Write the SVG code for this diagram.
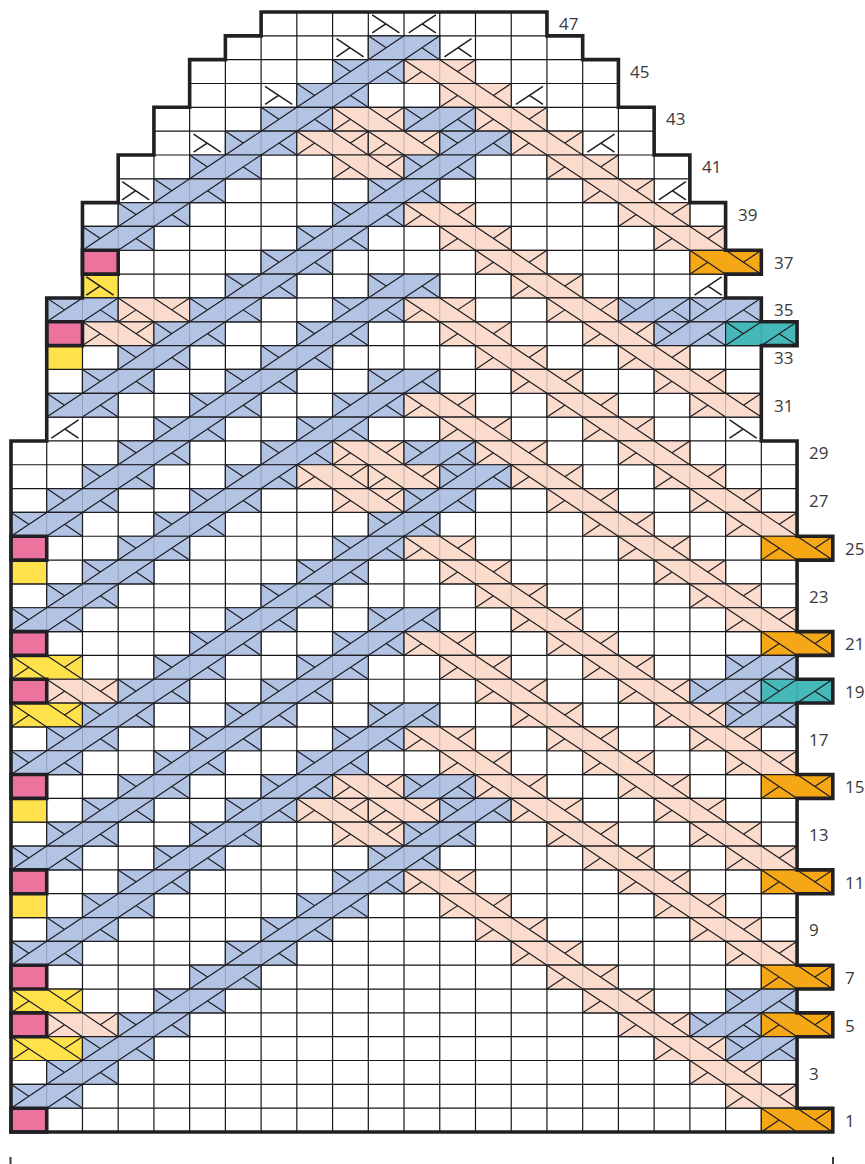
<svg xmlns="http://www.w3.org/2000/svg" width="865" height="1164" viewBox="0 0 865 1164">
<style>
.g,.e,.l,.f,.t,.h{vector-effect:non-scaling-stroke;fill:none}
.g{stroke:#161618;stroke-width:1.2}
.e{stroke:#1e1e22;stroke-width:1.2}
.l{stroke:#1e1e22;stroke-width:1.2}
.f{stroke:#5a5f70;stroke-opacity:.35;stroke-width:1}
.t{stroke:#1e1e22;stroke-width:1.5}
.h{stroke:#212125;stroke-width:3.6;stroke-linejoin:miter}
.lab{font-family:"Open Sans","Noto Sans",sans-serif;font-size:17px;fill:#3a3a3c}
.tick{stroke:#3a3a3c;stroke-width:2;fill:none}
</style>
<defs>
<path id="up" class="l" d="M0 1L1 0M1 1L2 0M0 0L.5 .5M2 1L1.5 .5"/>
<path id="dn" class="l" d="M0 0L1 1M1 0L2 1M0 1L.5 .5M2 0L1.5 .5"/>
<g id="b"><rect width="2" height="1" fill="#b3c3e3"/><path class="f" d="M1 0V1"/><rect class="e" width="2" height="1"/><use href="#up"/></g>
<g id="c"><rect width="2" height="1" fill="#45b9b9"/><path class="f" d="M1 0V1"/><rect class="e" width="2" height="1"/><use href="#up"/></g>
<g id="s"><rect width="2" height="1" fill="#fadbcc"/><path class="f" d="M1 0V1"/><rect class="e" width="2" height="1"/><use href="#dn"/></g>
<g id="o"><rect width="2" height="1" fill="#f6a715"/><rect class="e" width="2" height="1"/><use href="#dn"/></g>
<g id="Y"><rect width="2" height="1" fill="#ffe14c"/><rect class="e" width="2" height="1"/><use href="#dn"/></g>
<g id="y"><rect width="1" height="1" fill="#ffe14c"/><rect class="e" width="1" height="1"/></g>
<g id="p"><rect width="1" height="1" fill="#ec739e"/><rect class="h" width="1" height="1"/></g>
<path id="a" class="t" d="M.11 .12L.87 .88M.11 .88L.49 .5"/>
<path id="m" class="t" d="M.13 .88L.89 .12M.51 .5L.89 .88"/>
<clipPath id="clip"><polygon points="7,0 15,0 15,1 16,1 16,2 17,2 17,4 18,4 18,6 19,6 19,8 20,8 20,10 21,10 21,11 20,11 20,12 21,12 21,13 22,13 22,14 21,14 21,18 22,18 22,22 23,22 23,23 22,23 22,26 23,26 23,27 22,27 22,28 23,28 23,29 22,29 22,32 23,32 23,33 22,33 22,36 23,36 23,37 22,37 22,40 23,40 23,41 22,41 22,42 23,42 23,43 22,43 22,46 23,46 23,47 0,47 0,18 1,18 1,12 2,12 2,8 3,8 3,6 4,6 4,4 5,4 5,2 6,2 6,1 7,1"/></clipPath>
</defs>
<rect width="865" height="1164" fill="#fff"/>
<g id="chart" transform="translate(11,12) scale(35.73,23.83)">
<path class="g" clip-path="url(#clip)" d="M1 0V47M2 0V47M3 0V47M4 0V47M5 0V47M6 0V47M7 0V47M8 0V47M9 0V47M10 0V47M11 0V47M12 0V47M13 0V47M14 0V47M15 0V47M16 0V47M17 0V47M18 0V47M19 0V47M20 0V47M21 0V47M22 0V47M0 1H23M0 2H23M0 3H23M0 4H23M0 5H23M0 6H23M0 7H23M0 8H23M0 9H23M0 10H23M0 11H23M0 12H23M0 13H23M0 14H23M0 15H23M0 16H23M0 17H23M0 18H23M0 19H23M0 20H23M0 21H23M0 22H23M0 23H23M0 24H23M0 25H23M0 26H23M0 27H23M0 28H23M0 29H23M0 30H23M0 31H23M0 32H23M0 33H23M0 34H23M0 35H23M0 36H23M0 37H23M0 38H23M0 39H23M0 40H23M0 41H23M0 42H23M0 43H23M0 44H23M0 45H23M0 46H23"/>
<g id="row-47" transform="translate(0,0)"><use href="#a" x="10"/><use href="#m" x="11"/></g>
<g id="row-46" transform="translate(0,1)"><use href="#a" x="9"/><use href="#b" x="10"/><use href="#m" x="12"/></g>
<g id="row-45" transform="translate(0,2)"><use href="#b" x="9"/><use href="#s" x="11"/></g>
<g id="row-44" transform="translate(0,3)"><use href="#a" x="7"/><use href="#b" x="8"/><use href="#s" x="12"/><use href="#m" x="14"/></g>
<g id="row-43" transform="translate(0,4)"><use href="#b" x="7"/><use href="#s" x="9"/><use href="#b" x="11"/><use href="#s" x="13"/></g>
<g id="row-42" transform="translate(0,5)"><use href="#a" x="5"/><use href="#b" x="6"/><use href="#s" x="8"/><use href="#s" x="10"/><use href="#b" x="12"/><use href="#s" x="14"/><use href="#m" x="16"/></g>
<g id="row-41" transform="translate(0,6)"><use href="#b" x="5"/><use href="#s" x="9"/><use href="#b" x="11"/><use href="#s" x="15"/></g>
<g id="row-40" transform="translate(0,7)"><use href="#a" x="3"/><use href="#b" x="4"/><use href="#b" x="10"/><use href="#s" x="16"/><use href="#m" x="18"/></g>
<g id="row-39" transform="translate(0,8)"><use href="#b" x="3"/><use href="#b" x="9"/><use href="#s" x="11"/><use href="#s" x="17"/></g>
<g id="row-38" transform="translate(0,9)"><use href="#b" x="2"/><use href="#b" x="8"/><use href="#s" x="12"/><use href="#s" x="18"/></g>
<g id="row-37" transform="translate(0,10)"><use href="#b" x="7"/><use href="#s" x="13"/><use href="#o" x="19"/></g>
<g id="row-36" transform="translate(0,11)"><use href="#y" x="2"/><use href="#a" x="2"/><use href="#b" x="6"/><use href="#b" x="10"/><use href="#s" x="14"/><use href="#m" x="19"/></g>
<g id="row-35" transform="translate(0,12)"><use href="#b" x="1"/><use href="#s" x="3"/><use href="#b" x="5"/><use href="#b" x="9"/><use href="#s" x="11"/><use href="#s" x="15"/><use href="#b" x="17"/><use href="#b" x="19"/></g>
<g id="row-34" transform="translate(0,13)"><use href="#s" x="2"/><use href="#b" x="4"/><use href="#b" x="8"/><use href="#s" x="12"/><use href="#s" x="16"/><use href="#b" x="18"/><use href="#c" x="20"/></g>
<g id="row-33" transform="translate(0,14)"><use href="#y" x="1"/><use href="#b" x="3"/><use href="#b" x="7"/><use href="#s" x="13"/><use href="#s" x="17"/></g>
<g id="row-32" transform="translate(0,15)"><use href="#b" x="2"/><use href="#b" x="6"/><use href="#b" x="10"/><use href="#s" x="14"/><use href="#s" x="18"/></g>
<g id="row-31" transform="translate(0,16)"><use href="#b" x="1"/><use href="#b" x="5"/><use href="#b" x="9"/><use href="#s" x="11"/><use href="#s" x="15"/><use href="#s" x="19"/></g>
<g id="row-30" transform="translate(0,17)"><use href="#m" x="1"/><use href="#b" x="4"/><use href="#b" x="8"/><use href="#s" x="12"/><use href="#s" x="16"/><use href="#a" x="20"/></g>
<g id="row-29" transform="translate(0,18)"><use href="#b" x="3"/><use href="#b" x="7"/><use href="#s" x="9"/><use href="#b" x="11"/><use href="#s" x="13"/><use href="#s" x="17"/></g>
<g id="row-28" transform="translate(0,19)"><use href="#b" x="2"/><use href="#b" x="6"/><use href="#s" x="8"/><use href="#s" x="10"/><use href="#b" x="12"/><use href="#s" x="14"/><use href="#s" x="18"/></g>
<g id="row-27" transform="translate(0,20)"><use href="#b" x="1"/><use href="#b" x="5"/><use href="#s" x="9"/><use href="#b" x="11"/><use href="#s" x="15"/><use href="#s" x="19"/></g>
<g id="row-26" transform="translate(0,21)"><use href="#b" x="0"/><use href="#b" x="4"/><use href="#b" x="10"/><use href="#s" x="16"/><use href="#s" x="20"/></g>
<g id="row-25" transform="translate(0,22)"><use href="#b" x="3"/><use href="#b" x="9"/><use href="#s" x="11"/><use href="#s" x="17"/><use href="#o" x="21"/></g>
<g id="row-24" transform="translate(0,23)"><use href="#y" x="0"/><use href="#b" x="2"/><use href="#b" x="8"/><use href="#s" x="12"/><use href="#s" x="18"/></g>
<g id="row-23" transform="translate(0,24)"><use href="#b" x="1"/><use href="#b" x="7"/><use href="#s" x="13"/><use href="#s" x="19"/></g>
<g id="row-22" transform="translate(0,25)"><use href="#b" x="0"/><use href="#b" x="6"/><use href="#b" x="10"/><use href="#s" x="14"/><use href="#s" x="20"/></g>
<g id="row-21" transform="translate(0,26)"><use href="#b" x="5"/><use href="#b" x="9"/><use href="#s" x="11"/><use href="#s" x="15"/><use href="#o" x="21"/></g>
<g id="row-20" transform="translate(0,27)"><use href="#Y" x="0"/><use href="#b" x="4"/><use href="#b" x="8"/><use href="#s" x="12"/><use href="#s" x="16"/><use href="#b" x="20"/></g>
<g id="row-19" transform="translate(0,28)"><use href="#s" x="1"/><use href="#b" x="3"/><use href="#b" x="7"/><use href="#s" x="13"/><use href="#s" x="17"/><use href="#b" x="19"/><use href="#c" x="21"/></g>
<g id="row-18" transform="translate(0,29)"><use href="#Y" x="0"/><use href="#b" x="2"/><use href="#b" x="6"/><use href="#b" x="10"/><use href="#s" x="14"/><use href="#s" x="18"/><use href="#b" x="20"/></g>
<g id="row-17" transform="translate(0,30)"><use href="#b" x="1"/><use href="#b" x="5"/><use href="#b" x="9"/><use href="#s" x="11"/><use href="#s" x="15"/><use href="#s" x="19"/></g>
<g id="row-16" transform="translate(0,31)"><use href="#b" x="0"/><use href="#b" x="4"/><use href="#b" x="8"/><use href="#s" x="12"/><use href="#s" x="16"/><use href="#s" x="20"/></g>
<g id="row-15" transform="translate(0,32)"><use href="#b" x="3"/><use href="#b" x="7"/><use href="#s" x="9"/><use href="#b" x="11"/><use href="#s" x="13"/><use href="#s" x="17"/><use href="#o" x="21"/></g>
<g id="row-14" transform="translate(0,33)"><use href="#y" x="0"/><use href="#b" x="2"/><use href="#b" x="6"/><use href="#s" x="8"/><use href="#s" x="10"/><use href="#b" x="12"/><use href="#s" x="14"/><use href="#s" x="18"/></g>
<g id="row-13" transform="translate(0,34)"><use href="#b" x="1"/><use href="#b" x="5"/><use href="#s" x="9"/><use href="#b" x="11"/><use href="#s" x="15"/><use href="#s" x="19"/></g>
<g id="row-12" transform="translate(0,35)"><use href="#b" x="0"/><use href="#b" x="4"/><use href="#b" x="10"/><use href="#s" x="16"/><use href="#s" x="20"/></g>
<g id="row-11" transform="translate(0,36)"><use href="#b" x="3"/><use href="#b" x="9"/><use href="#s" x="11"/><use href="#s" x="17"/><use href="#o" x="21"/></g>
<g id="row-10" transform="translate(0,37)"><use href="#y" x="0"/><use href="#b" x="2"/><use href="#b" x="8"/><use href="#s" x="12"/><use href="#s" x="18"/></g>
<g id="row-9" transform="translate(0,38)"><use href="#b" x="1"/><use href="#b" x="7"/><use href="#s" x="13"/><use href="#s" x="19"/></g>
<g id="row-8" transform="translate(0,39)"><use href="#b" x="0"/><use href="#b" x="6"/><use href="#s" x="14"/><use href="#s" x="20"/></g>
<g id="row-7" transform="translate(0,40)"><use href="#b" x="5"/><use href="#s" x="15"/><use href="#o" x="21"/></g>
<g id="row-6" transform="translate(0,41)"><use href="#Y" x="0"/><use href="#b" x="4"/><use href="#s" x="16"/><use href="#b" x="20"/></g>
<g id="row-5" transform="translate(0,42)"><use href="#s" x="1"/><use href="#b" x="3"/><use href="#s" x="17"/><use href="#b" x="19"/><use href="#o" x="21"/></g>
<g id="row-4" transform="translate(0,43)"><use href="#Y" x="0"/><use href="#b" x="2"/><use href="#s" x="18"/><use href="#b" x="20"/></g>
<g id="row-3" transform="translate(0,44)"><use href="#b" x="1"/><use href="#s" x="19"/></g>
<g id="row-2" transform="translate(0,45)"><use href="#b" x="0"/><use href="#s" x="20"/></g>
<g id="row-1" transform="translate(0,46)"><use href="#o" x="21"/></g>
<g id="pink-cells">
<use href="#p" x="2" y="10"/><use href="#p" x="1" y="13"/><use href="#p" x="0" y="22"/><use href="#p" x="0" y="26"/><use href="#p" x="0" y="28"/><use href="#p" x="0" y="32"/><use href="#p" x="0" y="36"/><use href="#p" x="0" y="40"/><use href="#p" x="0" y="42"/><use href="#p" x="0" y="46"/>
</g>
<polygon id="outline" class="h" points="7,0 15,0 15,1 16,1 16,2 17,2 17,4 18,4 18,6 19,6 19,8 20,8 20,10 21,10 21,11 20,11 20,12 21,12 21,13 22,13 22,14 21,14 21,18 22,18 22,22 23,22 23,23 22,23 22,26 23,26 23,27 22,27 22,28 23,28 23,29 22,29 22,32 23,32 23,33 22,33 22,36 23,36 23,37 22,37 22,40 23,40 23,41 22,41 22,42 23,42 23,43 22,43 22,46 23,46 23,47 0,47 0,18 1,18 1,12 2,12 2,8 3,8 3,6 4,6 4,4 5,4 5,2 6,2 6,1 7,1"/>
</g>
<g id="row-labels">
<text class="lab" x="559" y="30">47</text>
<text class="lab" x="630" y="78">45</text>
<text class="lab" x="666" y="125">43</text>
<text class="lab" x="702" y="173">41</text>
<text class="lab" x="738" y="221">39</text>
<text class="lab" x="774" y="269">37</text>
<text class="lab" x="774" y="316">35</text>
<text class="lab" x="774" y="364">33</text>
<text class="lab" x="774" y="412">31</text>
<text class="lab" x="809" y="459">29</text>
<text class="lab" x="809" y="507">27</text>
<text class="lab" x="845" y="555">25</text>
<text class="lab" x="809" y="603">23</text>
<text class="lab" x="845" y="650">21</text>
<text class="lab" x="845" y="698">19</text>
<text class="lab" x="809" y="746">17</text>
<text class="lab" x="845" y="793">15</text>
<text class="lab" x="809" y="841">13</text>
<text class="lab" x="845" y="889">11</text>
<text class="lab" x="809" y="936">9</text>
<text class="lab" x="845" y="984">7</text>
<text class="lab" x="845" y="1032">5</text>
<text class="lab" x="809" y="1080">3</text>
<text class="lab" x="845" y="1127">1</text>
</g>
<path class="tick" d="M10.5 1157V1164M833 1157V1164"/>
</svg>
